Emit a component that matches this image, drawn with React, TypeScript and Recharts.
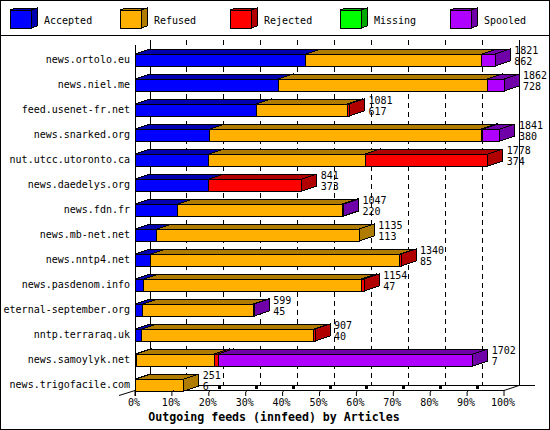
import React from 'react';
import { BarChart, Bar, XAxis, YAxis, CartesianGrid, Legend, LabelList } from 'recharts';

const hosts = [
  'news.ortolo.eu', 'news.niel.me', 'feed.usenet-fr.net', 'news.snarked.org',
  'nut.utcc.utoronto.ca', 'news.daedelys.org', 'news.fdn.fr', 'news.mb-net.net',
  'news.nntp4.net', 'news.pasdenom.info', 'eternal-september.org', 'nntp.terraraq.uk',
  'news.samoylyk.net', 'news.trigofacile.com',
];

// share of articles per feed, in percent
const accepted = [46.3, 38.8, 32.9, 20.3, 20.0, 20.0, 11.6, 5.9, 4.3, 2.4, 2.1, 1.8, 0.3, 0.2];
const refused = [47.7, 56.7, 24.6, 73.5, 42.4, 0, 44.6, 54.9, 67.5, 59.0, 29.9, 46.7, 21.2, 13.0];
const rejected = [0, 0, 0.6, 0.4, 33.2, 25.2, 0, 0, 0.3, 0.7, 0, 0.3, 1.1, 0];
const missing = [0, 0, 0, 0, 0, 0, 0, 0, 0, 0, 0, 0, 0, 0];
const spooled = [3.6, 4.5, 0, 4.7, 0, 0, 0.3, 0, 0, 0, 0.3, 0, 68.9, 0];

// the two numbers printed at the end of each bar
const totals = ['1821', '1862', '1081', '1841', '1778', '841', '1047', '1135', '1340', '1154', '599', '907', '1702', '251'];
const counts = ['862', '728', '617', '380', '374', '373', '220', '113', '85', '47', '45', '40', '7', '6'];

const seriesNames = ['Accepted', 'Refused', 'Rejected', 'Missing', 'Spooled'];
const seriesFront = ['#0000ff', '#ffb000', '#ff0000', '#00ff00', '#b000ff'];
const seriesDark = ['#0000b0', '#b07c00', '#b00000', '#00a800', '#7000a8'];
const percentTicks = [0, 10, 20, 30, 40, 50, 60, 70, 80, 90, 100];

const MONO = '"DejaVu Sans Mono", monospace';
const DX = 15;
const DY = 5;

const data = hosts.map((host, i) => ({
  host,
  Accepted: accepted[i],
  Refused: refused[i],
  Rejected: rejected[i],
  Missing: missing[i],
  Spooled: spooled[i],
}));

const Box3D = (props: any) => {
  const { x, y, width, height, front, dark } = props;
  if (!width || width <= 0) return null;
  const r = x + width;
  const b = y + height;
  return (
    <g stroke="#000" strokeWidth={1} shapeRendering="crispEdges">
      <polygon points={`${x},${y} ${x + DX},${y - DY} ${r + DX},${y - DY} ${r},${y}`} fill={dark} />
      <polygon points={`${r},${y} ${r + DX},${y - DY} ${r + DX},${b - DY} ${r},${b}`} fill={dark} />
      <rect x={x} y={y} width={width} height={height} fill={front} />
    </g>
  );
};

const EndLabel = (props: any) => {
  const { x, width, y, index } = props;
  const lx = x + width + 19;
  return (
    <text fontFamily={MONO} fontSize={10} fill="#000">
      <tspan x={lx} y={y - 0.5}>{totals[index]}</tspan>
      <tspan x={lx} y={y + 11}>{counts[index]}</tspan>
    </text>
  );
};

const HostTick = (props: any) => (
  <text x={130} y={props.y + 3.5} textAnchor="end" fontFamily={MONO} fontSize={10} fill="#000">
    {props.payload.value}
  </text>
);

const PercentTick = (props: any) => {
  const { x, payload } = props;
  const edge = payload.value === 0 || payload.value === 100;
  return (
    <g>
      <polyline
        points={edge ? `${x},390 ${x},396` : `${x},396 ${x},392 ${x + 2},390`}
        fill="none"
        stroke="#000"
      />
      <text x={x - 1} y={406} textAnchor="middle" fontFamily={MONO} fontSize={10} fill="#000">
        {payload.value}%
      </text>
    </g>
  );
};

// gridlines sit on the back wall, one depth step behind the axis ticks
const BackLine = (props: any) => {
  const { x1 } = props;
  const bx = x1 + DX;
  if (x1 < 136) return <line x1={bx} y1={40} x2={bx} y2={385} stroke="#000" shapeRendering="crispEdges" />;
  if (x1 > 503) return null;
  return (
    <g shapeRendering="crispEdges">
      <line x1={bx} y1={40} x2={bx} y2={385} stroke="#000" strokeDasharray="5 4" />
      <rect x={bx - 6} y={385.5} width={3} height={3} fill="#000" />
    </g>
  );
};

const LegendRow = () => (
  <svg width={550} height={35} style={{ display: 'block' }}>
    {seriesNames.map((name, i) => {
      const x = 10 + 110 * i;
      return (
        <g key={name}>
          <g stroke="#000" shapeRendering="crispEdges">
            <polygon points={`${x},10 ${x + 6},8 ${x + 27},8 ${x + 21},10`} fill={seriesDark[i]} />
            <polygon points={`${x + 21},10 ${x + 27},8 ${x + 27},26 ${x + 21},28`} fill={seriesDark[i]} />
            <rect x={x} y={10} width={21} height={18} fill={seriesFront[i]} />
          </g>
          <text x={x + 34} y={23.5} fontFamily={MONO} fontSize={10} fill="#000">{name}</text>
        </g>
      );
    })}
  </svg>
);

const App: React.FC = () => (
  <div style={{ position: 'absolute', left: 0, top: 0, width: 550, height: 430, background: '#fff' }}>
    <svg width={550} height={430} style={{ position: 'absolute', left: 0, top: 0 }} shapeRendering="crispEdges">
      <rect x={0.5} y={0.5} width={549} height={428.5} fill="none" stroke="#000" />
      <line x1={0} y1={35.5} x2={550} y2={35.5} stroke="#000" />
      <line x1={135.5} y1={45} x2={135.5} y2={396} stroke="#000" />
      <line x1={519.5} y1={40} x2={519.5} y2={385} stroke="#000" />
      <line x1={149} y1={385.5} x2={535} y2={385.5} stroke="#000" />
      <line x1={135} y1={390.5} x2={504} y2={390.5} stroke="#000" />
      <line x1={119} y1={395.5} x2={135} y2={390.5} stroke="#000" shapeRendering="auto" />
      <line x1={504} y1={390.5} x2={519} y2={385.5} stroke="#000" shapeRendering="auto" />
      <text
        x={274}
        y={421}
        textAnchor="middle"
        fontFamily={MONO}
        fontSize={11.6}
        fontWeight="bold"
        fill="#000"
        shapeRendering="auto"
      >
        Outgoing feeds (innfeed) by Articles
      </text>
    </svg>
    <div style={{ position: 'absolute', left: 0, top: 0 }}>
      <BarChart
        width={550}
        height={430}
        data={data}
        layout="vertical"
        barSize={12}
        margin={{ top: 47, right: 46, bottom: 23, left: 0 }}
      >
        <CartesianGrid horizontal={false} vertical={BackLine} />
        <XAxis
          type="number"
          domain={[0, 100]}
          ticks={percentTicks}
          height={10}
          axisLine={false}
          tickLine={false}
          tick={PercentTick}
          interval={0}
        />
        <YAxis
          type="category"
          dataKey="host"
          width={135}
          axisLine={false}
          tickLine={false}
          tick={HostTick}
          interval={0}
        />
        <Legend
          layout="vertical"
          align="center"
          verticalAlign="middle"
          wrapperStyle={{ position: 'absolute', left: 0, top: 0, width: 550, height: 35 }}
          content={LegendRow}
        />
        {seriesNames.map((name, i) => (
          <Bar
            key={name}
            dataKey={name}
            stackId="feeds"
            fill={seriesFront[i]}
            isAnimationActive={false}
            shape={(p: any) => <Box3D {...p} front={seriesFront[i]} dark={seriesDark[i]} />}
          >
            {name === 'Spooled' ? <LabelList dataKey={name} content={EndLabel} /> : null}
          </Bar>
        ))}
      </BarChart>
    </div>
  </div>
);

export default App;
